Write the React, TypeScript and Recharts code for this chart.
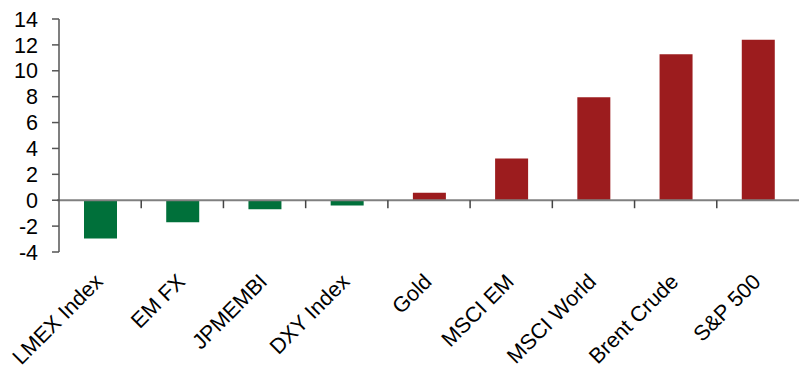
import { BarChart, Bar, XAxis, YAxis, Cell, ReferenceLine } from 'recharts';

const assets = [
  'LMEX Index',
  'EM FX',
  'JPMEMBI',
  'DXY Index',
  'Gold',
  'MSCI EM',
  'MSCI World',
  'Brent Crude',
  'S&P 500',
];
const returns = [-2.96, -1.7, -0.7, -0.4, 0.57, 3.22, 7.96, 11.28, 12.4];
const yTicks = [-4, -2, 0, 2, 4, 6, 8, 10, 12, 14];

const data = assets.map((name, i) => ({ name, value: returns[i] }));

const GREEN = '#00703a';
const RED = '#9c1c1e';
const FONT = '"Liberation Sans", Arial, sans-serif';

const AssetTick = (props: any) => {
  const { x, y, payload } = props;
  return (
    <g transform={`translate(${x + 4},${y})`}>
      <text
        transform="rotate(-45)"
        textAnchor="end"
        fontSize={21.5}
        fontFamily={FONT}
        fill="#000"
      >
        {payload.value}
      </text>
    </g>
  );
};

// zero line with the category boundary ticks hanging below it
const ZeroAxis = (props: any) => {
  const { x1, y1, x2 } = props;
  const step = (x2 - x1) / assets.length;
  return (
    <g>
      <line x1={x1 - 2} y1={y1} x2={x2} y2={y1} stroke="#808080" strokeWidth={2} />
      {assets.slice(1).map((_, i) => (
        <line
          key={i}
          x1={x1 + step * (i + 1)}
          y1={y1}
          x2={x1 + step * (i + 1)}
          y2={y1 + 8}
          stroke="#444"
          strokeWidth={1.5}
        />
      ))}
    </g>
  );
};

const App = () => (
  <div>
    <style>{`body{margin:0}`}</style>
    <BarChart
      width={799}
      height={368}
      data={data}
      margin={{ top: 19, right: 0, bottom: 0, left: 0 }}
    >
      <XAxis
        dataKey="name"
        interval={0}
        axisLine={false}
        tickLine={false}
        height={116}
        tickSize={6}
        tickMargin={25}
        tick={<AssetTick />}
      />
      <YAxis
        domain={[-4, 14]}
        ticks={yTicks}
        interval={0}
        width={59}
        tickSize={7}
        tickMargin={14}
        axisLine={{ stroke: '#555', strokeWidth: 1.5 }}
        tickLine={{ stroke: '#555', strokeWidth: 1.5 }}
        tick={{ fontSize: 21.5, fontFamily: FONT, fill: '#000' }}
      />
      <Bar dataKey="value" barSize={33} isAnimationActive={false}>
        {data.map((d, i) => (
          <Cell key={i} fill={d.value < 0 ? GREEN : RED} />
        ))}
      </Bar>
      <ReferenceLine y={0} shape={<ZeroAxis />} />
    </BarChart>
  </div>
);

export default App;
